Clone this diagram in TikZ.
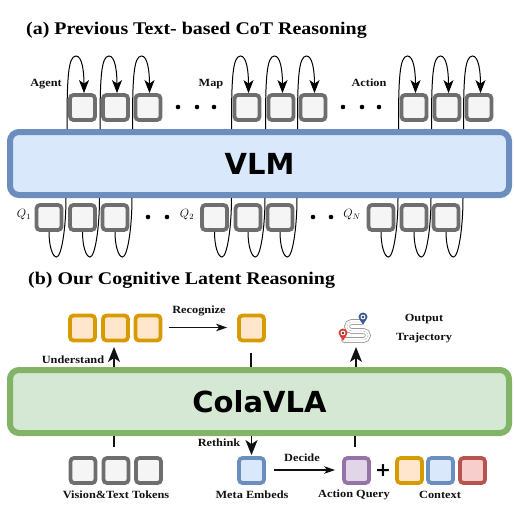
\documentclass[tikz,border=0pt]{standalone}
\usepackage{fontspec}
\setmainfont{Liberation Serif}
\setsansfont{DejaVu Sans}
\usetikzlibrary{arrows.meta,calc}
\definecolor{gd}{HTML}{6E6E6E}\definecolor{gf}{HTML}{F5F5F5}
\definecolor{bd}{HTML}{6C8EBF}\definecolor{bf}{HTML}{DAE8FC}
\definecolor{od}{HTML}{D79B00}\definecolor{of}{HTML}{FFE6CC}
\definecolor{nd}{HTML}{82B366}\definecolor{nf}{HTML}{D5E8D4}
\definecolor{pd}{HTML}{9673A6}\definecolor{pf}{HTML}{E1D5E7}
\definecolor{rd}{HTML}{B85450}\definecolor{rf}{HTML}{F8CECC}
\definecolor{ink}{HTML}{111111}
\definecolor{pinr}{HTML}{E03C31}\definecolor{pinb}{HTML}{3A5A98}
\newfontfamily\wideserif[FakeStretch=1.12]{Liberation Serif}
\tikzset{
 token/.style={rectangle,rounded corners=3.5pt,minimum size=25pt,inner sep=0pt,line width=3.8pt},
 grey/.style={token,draw=gd,fill=gf},
 blue/.style={token,draw=bd,fill=bf},
 orange/.style={token,draw=od,fill=of},
 purple/.style={token,draw=pd,fill=pf},
 redt/.style={token,draw=rd,fill=rf},
 main/.style={rectangle,rounded corners=9pt,minimum width=499pt,minimum height=63pt,inner sep=0pt,line width=6pt,font=\sffamily\bfseries\fontsize{29}{29}\selectfont},
 lab/.style={font=\wideserif\bfseries\fontsize{11}{12}\selectfont,inner sep=0pt,text=ink},
 ttl/.style={font=\wideserif\bfseries\fontsize{17.8}{20}\selectfont,inner sep=0pt,anchor=west},
 qlab/.style={font=\fontsize{12}{12}\selectfont,inner sep=0pt},
 loopl/.style={line width=1pt,black},
 arr/.style={-{Stealth[length=13pt,width=10pt,inset=3.5pt]}},
 thin arr/.style={line width=1.1pt,-{Stealth[length=11pt,width=7.5pt,inset=3pt]}},
 bigarr/.style={line width=1.7pt,ink,-{Stealth[length=15pt,width=12pt,inset=4pt]}},
 stub/.style={line width=1.7pt,ink},
 dotm/.style={circle,fill=black,minimum size=4.6pt,inner sep=0pt},
 road/.style={rounded corners=4.5pt,line cap=round},
}
\def\roadpath{(344,340) -- (368,340) -- (368,331) -- (347,331) -- (347,322) -- (361,322)}
\begin{document}
\begin{tikzpicture}[x=1pt,y=-1pt]
\useasboundingbox (0,0) rectangle (514,507);
\node[ttl] (ta) at (26,30) {(a) Previous Text- based CoT Reasoning};
\node[ttl] (tb) at (28,280) {(b) Our Cognitive Latent Reasoning};

\node[main,draw=bd,fill=bf] (vlm) at (259.5,163.5) {VLM};
\node[main,draw=nd,fill=nf] (cola) at (259.5,401.5) {ColaVLA};

% upper tokens with feedback loops
\foreach \n/\x in {t1/82.5,t2/115.5,t3/148,t4/247,t5/281,t6/313,t7/414,t8/447,t9/479}{
  \node[grey] (\n) at (\x,107.5) {};
}
\foreach \n in {t1,t2,t3,t4,t5,t6,t7,t8,t9}{
  \draw[loopl,arr] ($(vlm.north -| \n.center)+(-15.5,0)$)
    .. controls +(0,-50) and +(-8,0) .. ($(\n.center)+(-6.5,-51.5)$)
    .. controls +(6,0) and +(0,-22) .. ($(\n.north)+(1.5,0)$);
}
\foreach \n/\x in {d1/178,d2/197,d3/214,d4/343,d5/362,d6/379}{
  \node[dotm] (\n) at (\x,107) {};
}
\node[lab] (agent) at (46,84) {Agent};
\node[lab] (map) at (211,84) {Map};
\node[lab] (action) at (369,83) {Action};

% lower tokens with loops
\foreach \n/\x in {b1/49,b2/82.5,b3/115,b4/214.5,b5/248,b6/280,b7/381,b8/414,b9/446}{
  \node[grey] (\n) at (\x,217.5) {};
}
\foreach \n in {b1,b2,b3,b4,b5,b6,b7,b8,b9}{
  \draw[loopl] (\n.south) .. controls +(0,14) and +(-4,0) .. ($(\n.center)+(7.5,39.5)$)
    .. controls +(5,0) and +(0,30) .. ($(vlm.south -| \n.center)+(17,0)$);
}
\foreach \n/\x in {e1/148,e2/167,e3/313,e4/331}{
  \node[dotm] (\n) at (\x,217) {};
}
\node[qlab] (q1) at (24,214.5) {$Q_1$};
\node[qlab] (q2) at (187,214.5) {$Q_2$};
\node[qlab] (qn) at (352,214.5) {$Q_N$};

% part b: top row
\foreach \n/\x in {o1/82.5,o2/115.5,o3/148,o4/251.5}{
  \node[orange] (\n) at (\x,328) {};
}
\draw[thin arr,ink] ($(o3.east)+(7,-0.5)$) -- ($(o4.west)+(-10,-0.5)$);
\node[lab] (recog) at (199,311) {Recognize};
\coordinate (uend) at (114,347);
\draw[bigarr] (cola.north -| uend) -- (uend);
\node[lab] (under) at (73,360) {Understand};
\coordinate (mstub) at (251,353);
\draw[stub] (cola.north -| mstub) -- (mstub);
\coordinate (oend) at (356,347);
\draw[bigarr] (cola.north -| oend) -- (oend);
\node[lab] (out1) at (424,319) {Output};
\node[lab] (out2) at (424,338) {Trajectory};

% trajectory icon
\draw[road,line width=5.6pt,gray!80] \roadpath;
\draw[road,line width=4pt,white] \roadpath;
\draw[road,line width=.35pt,gray!70,dash pattern=on 2pt off 1.5pt] \roadpath;
\fill[pinr] (343,341) .. controls +(-2.5,-5) and +(0,2) .. (338.5,333)
  arc[start angle=180,end angle=360,radius=4.5] .. controls +(0,2) and +(2.5,-5) .. (343,341) -- cycle;
\fill[white] (343,333) circle (2.4);
\fill[black!75] (343,333) circle (1.3);
\fill[pinb] (363,325) .. controls +(-2.5,-5) and +(0,2) .. (358.5,317)
  arc[start angle=180,end angle=360,radius=4.5] .. controls +(0,2) and +(2.5,-5) .. (363,325) -- cycle;
\fill[white] (363,317) circle (2.4);
\fill[black!75] (363,317) circle (1.3);

% part b: bottom row
\foreach \n/\x in {g1/83,g2/116,g3/148.5}{
  \node[grey] (\n) at (\x,470.5) {};
}
\node[blue] (meta) at (251.5,470.5) {};
\node[purple] (aq) at (356.5,470.5) {};
\node[font=\sffamily\bfseries\fontsize{19}{19}\selectfont,inner sep=0pt] (plus) at (383,470.5) {+};
\node[orange] (c1) at (409.5,470.5) {};
\node[blue] (c2) at (440.5,470.5) {};
\node[redt] (c3) at (472.5,470.5) {};
\coordinate (s1) at (114,447);
\draw[stub] (cola.south -| s1) -- (s1);
\coordinate (s2) at (355,447);
\draw[stub] (cola.south -| s2) -- (s2);
\draw[bigarr] (cola.south -| meta) -- ($(meta.north)+(0,-1)$);
\node[lab] (reth) at (219,443) {Rethink};
\draw[thin arr,ink] ($(meta.east)+(8,-0.5)$) -- ($(aq.west)+(-7,-0.5)$);
\node[lab] (dec) at (302,458) {Decide};
\node[lab] (vt) at (116,495) {Vision\&Text Tokens};
\node[lab] (me) at (252,495) {Meta Embeds};
\node[lab] (aql) at (354,495) {Action Query};
\node[lab] (ctx) at (440,495) {Context};
\end{tikzpicture}
\end{document}
